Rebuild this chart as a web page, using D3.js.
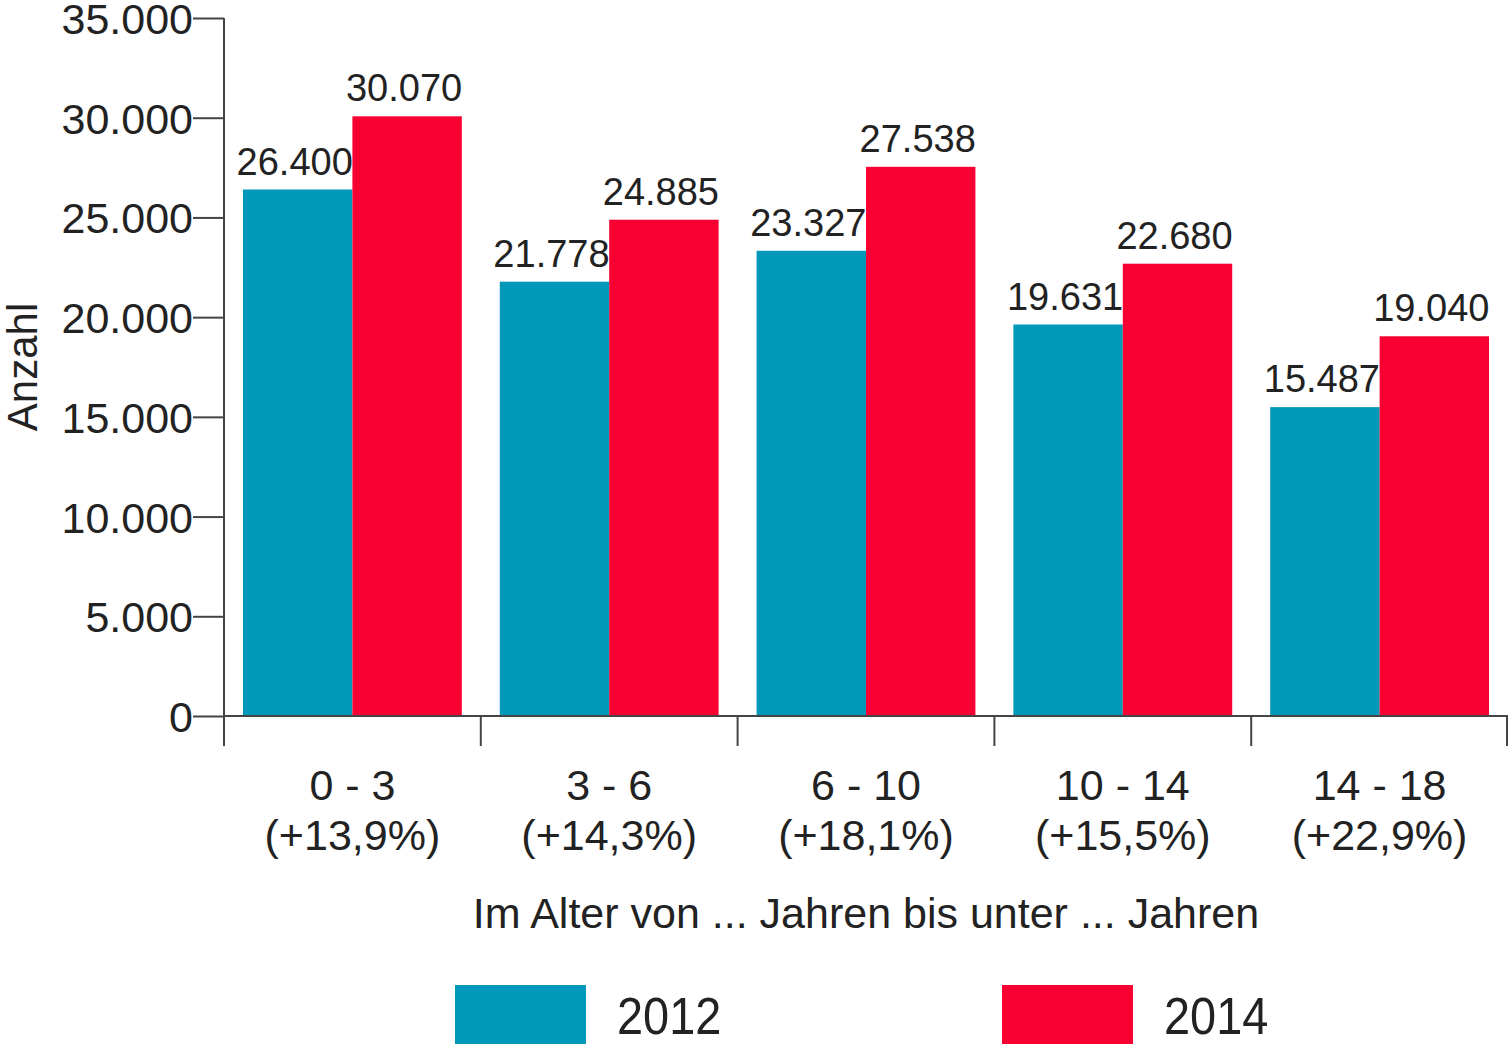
<!DOCTYPE html>
<html><head><meta charset="utf-8">
<script src="https://cdn.jsdelivr.net/npm/d3@7"></script>
<style>
html,body{margin:0;padding:0;background:#fff;}
svg{display:block;font-family:"Liberation Sans",Arial,Helvetica,sans-serif;}
</style></head>
<body><svg id="c" width="1508" height="1045"></svg>
<script>
const categories = ["0 - 3","3 - 6","6 - 10","10 - 14","14 - 18"];
const changeLabels = ["(+13,9%)","(+14,3%)","(+18,1%)","(+15,5%)","(+22,9%)"];
const seriesNames = ["2012","2014"];
const values2012 = [26400,21778,23327,19631,15487];
const values2014 = [30070,24885,27538,22680,19040];
const yTicks = [0,5000,10000,15000,20000,25000,30000,35000];
const colors = ["#0198b9","#f80031"];

const svg = d3.select("#c");
const fmt = v => d3.format(",")(v).replace(/,/g,".");

const x0 = d3.scaleBand().domain(categories).range([224,1508]).paddingInner(0).paddingOuter(0);
const x1 = d3.scaleBand().domain(seriesNames).range([0,x0.bandwidth()]).paddingInner(0).paddingOuter(0.1735);
const y = d3.scaleLinear().domain([0,35000]).range([716,18]);

const axisColor = "#444";

// bars
const data = categories.map((c,i)=>({cat:c, vals:[values2012[i],values2014[i]]}));
const g = svg.append("g");
data.forEach(d=>{
  d.vals.forEach((v,j)=>{
    g.append("rect")
      .attr("x", x0(d.cat)+x1(seriesNames[j]))
      .attr("y", y(v))
      .attr("width", x1.bandwidth())
      .attr("height", y(0)-y(v))
      .attr("fill", colors[j]);
    g.append("text")
      .attr("x", x0(d.cat)+x1(seriesNames[j])+x1.bandwidth()/2 - 3)
      .attr("y", y(v)-15)
      .attr("text-anchor","middle")
      .attr("font-size",38)
      .attr("fill","#222")
      .text(fmt(v));
  });
});

// y axis
const yAxis = d3.axisLeft(y).tickValues(yTicks).tickFormat(fmt).tickSize(31).tickPadding(0);
const ya = svg.append("g").attr("transform","translate(224,0)").call(yAxis);
ya.select(".domain").remove();
ya.selectAll(".tick line").attr("stroke",axisColor).attr("stroke-width",2);
ya.selectAll(".tick text").attr("font-size",43).attr("fill","#222").attr("font-family","Liberation Sans, Arial, sans-serif").attr("dy","0.36em");
svg.append("line").attr("x1",224).attr("x2",224).attr("y1",y(35000)).attr("y2",746).attr("stroke",axisColor).attr("stroke-width",2);

// x axis
svg.append("line").attr("x1",224).attr("x2",1508).attr("y1",y(0)).attr("y2",y(0)).attr("stroke",axisColor).attr("stroke-width",2);
const bounds = categories.map(c=>x0(c)).concat([x0.range()[1]-1]);
svg.selectAll(".xt").data(bounds).enter().append("line")
  .attr("x1",d=>d).attr("x2",d=>d).attr("y1",y(0)).attr("y2",746)
  .attr("stroke",axisColor).attr("stroke-width",2);

categories.forEach((c,i)=>{
  const cx = x0(c)+x0.bandwidth()/2;
  svg.append("text").attr("x",cx).attr("y",800).attr("text-anchor","middle").attr("font-size",43).attr("fill","#222").text(c);
  svg.append("text").attr("x",cx).attr("y",850).attr("text-anchor","middle").attr("font-size",43).attr("fill","#222").text(changeLabels[i]);
});

svg.append("text").attr("x",866).attr("y",928).attr("text-anchor","middle").attr("font-size",43).attr("fill","#222")
  .text("Im Alter von ... Jahren bis unter ... Jahren");

svg.append("text").attr("transform","translate(37,367) rotate(-90)").attr("text-anchor","middle").attr("font-size",42).attr("fill","#222").text("Anzahl");

// legend
const legX = [455,1002];
seriesNames.forEach((s,j)=>{
  svg.append("rect").attr("x",legX[j]).attr("y",985).attr("width",131).attr("height",59).attr("fill",colors[j]);
  svg.append("text").attr("transform",`translate(${legX[j]+162},1034) scale(0.92,1)`).attr("font-size",51)
    .attr("fill","#222").text(s);
});
</script></body></html>
